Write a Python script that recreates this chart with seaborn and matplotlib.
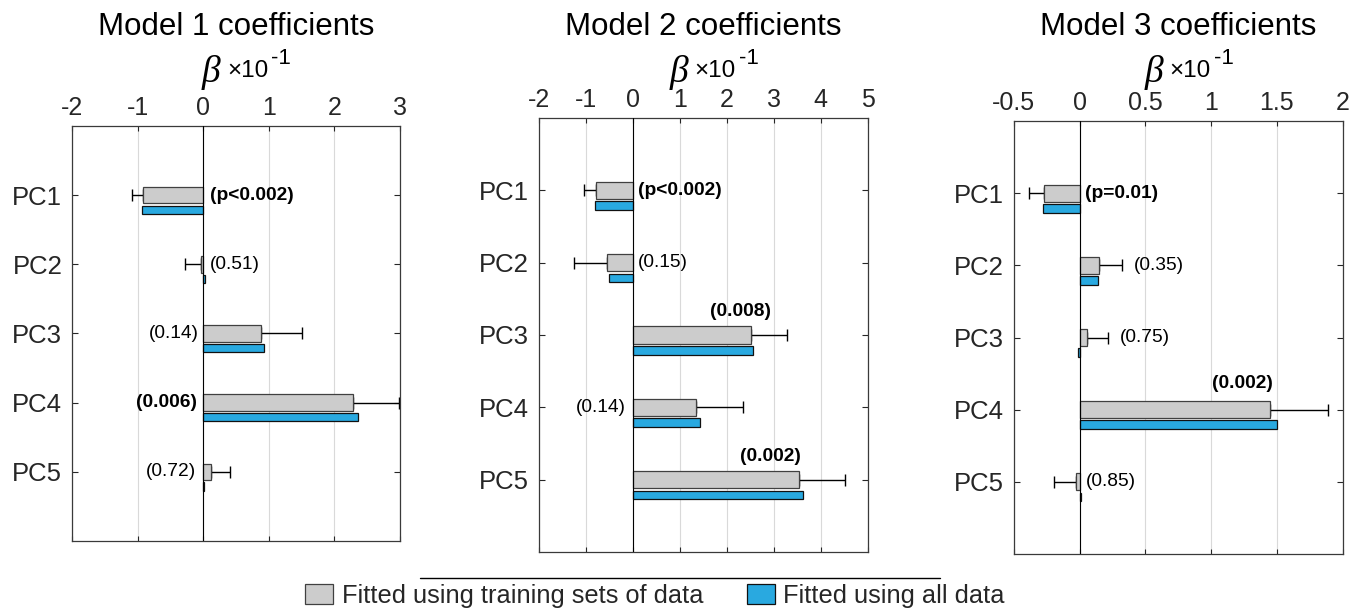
import numpy as np
import pandas as pd
import matplotlib
matplotlib.use("Agg")
import matplotlib.pyplot as plt
from matplotlib.patches import Patch
from matplotlib.lines import Line2D
import seaborn as sns

# ---------------- data ----------------
components = ["PC1", "PC2", "PC3", "PC4", "PC5"]
series_names = ["Fitted using training sets of data", "Fitted using all data"]
titles = ["Model 1 coefficients", "Model 2 coefficients", "Model 3 coefficients"]

m1_train = [-0.92, -0.03, 0.88, 2.29, 0.12]
m1_err = [0.16, 0.25, 0.63, 0.70, 0.29]
m1_all = [-0.93, 0.02, 0.92, 2.36, 0.01]
m1_p = ["(p<0.002)", "(0.51)", "(0.14)", "(0.006)", "(0.72)"]
m1_sig = [True, False, False, True, False]

m2_train = [-0.79, -0.55, 2.51, 1.34, 3.53]
m2_err = [0.24, 0.70, 0.78, 1.00, 0.98]
m2_all = [-0.81, -0.50, 2.56, 1.43, 3.62]
m2_p = ["(p<0.002)", "(0.15)", "(0.008)", "(0.14)", "(0.002)"]
m2_sig = [True, False, True, False, True]

m3_train = [-0.27, 0.15, 0.06, 1.45, -0.03]
m3_err = [0.11, 0.17, 0.16, 0.44, 0.16]
m3_all = [-0.28, 0.14, -0.01, 1.50, 0.01]
m3_p = ["(p=0.01)", "(0.35)", "(0.75)", "(0.002)", "(0.85)"]
m3_sig = [True, False, False, True, False]

x_limits = [(-2, 3), (-2, 5), (-0.5, 2)]
x_ticks = [[-2, -1, 0, 1, 2, 3],
           [-2, -1, 0, 1, 2, 3, 4, 5],
           [-0.5, 0, 0.5, 1, 1.5, 2]]
x_ticklabels = [["-2", "-1", "0", "1", "2", "3"],
                ["-2", "-1", "0", "1", "2", "3", "4", "5"],
                ["-0.5", "0", "0.5", "1", "1.5", "2"]]

# ---------------- style / layout ----------------
W, H = 1359, 612
GRAY = "#cccccc"
BLUE = "#29a9e0"
DARK = "#262626"

# annotation placement: (anchor, dx points, dy data, ha)
label_layout = [
    [("zero", 5, 0, "left"), ("zero", 5, 0, "left"), ("zero", -3, 0, "right"),
     ("zero", -4.5, 0, "right"), ("zero", -5, 0, "right")],
    [("zero", 4, 0, "left"), ("zero", 4, 0, "left"), ("bar", -7, -0.33, "center"),
     ("zero", -5, 0, "right"), ("bar", -20, -0.32, "center")],
    [("zero", 4, 0, "left"), ("err", 8.5, 0, "left"), ("err", 8, 0, "left"),
     ("bar", -20, -0.36, "center"), ("zero", 4.5, 0, "left")],
]
# axes boxes in pixels: left, top, right, bottom
boxes = [(72, 126, 400, 541), (538.7, 118, 867.7, 552), (1013.7, 121, 1342.7, 554)]

sns.set_style("white")
plt.rcParams["font.family"] = ["Liberation Sans", "DejaVu Sans"]
plt.rcParams["axes.unicode_minus"] = False

fig = plt.figure(figsize=(W / 100, H / 100), dpi=100)

models = [
    (m1_train, m1_err, m1_all, m1_p, m1_sig),
    (m2_train, m2_err, m2_all, m2_p, m2_sig),
    (m3_train, m3_err, m3_all, m3_p, m3_sig),
]

positions = np.arange(1, len(components) + 1, dtype=float)

for i, (train, err, alld, pvals, sig) in enumerate(models):
    l, t, r, b = boxes[i]
    ax = fig.add_axes([l / W, 1 - b / H, (r - l) / W, (b - t) / H])

    df = pd.DataFrame({"component": components, "pos": positions,
                       "train": train, "err": err, "all": alld})
    df["pos_all"] = df["pos"] + 0.21

    sns.barplot(data=df, x="train", y="pos", orient="y", native_scale=True,
                width=0.24, color=GRAY, saturation=1, edgecolor="#404040",
                linewidth=0.9, errorbar=None, ax=ax)
    sns.barplot(data=df, x="all", y="pos_all", orient="y", native_scale=True,
                width=0.12, color=BLUE, saturation=1, edgecolor="#111111",
                linewidth=0.9, errorbar=None, ax=ax)

    tr = np.asarray(train)
    er = np.asarray(err)
    lower = np.where(tr < 0, er, 0.0)
    upper = np.where(tr >= 0, er, 0.0)
    ax.errorbar(tr, positions, xerr=[lower, upper], fmt="none",
                ecolor="black", elinewidth=1.0, capsize=4.5, capthick=1.0,
                zorder=0.9)

    ax.axvline(0, color="black", lw=0.8, zorder=3)

    ax.set_xlim(*x_limits[i])
    ax.set_ylim(6, 0)
    ax.set_xticks(x_ticks[i])
    ax.set_xticklabels(x_ticklabels[i])
    ax.set_yticks(positions)
    ax.set_yticklabels(components)
    ax.set_xlabel("")
    ax.set_ylabel("")
    ax.xaxis.tick_top()
    ax.tick_params(axis="x", top=True, bottom=True, labeltop=True,
                   labelbottom=False, direction="in", length=3.5, width=0.8,
                   colors=DARK, labelsize=18, pad=4)
    ax.tick_params(axis="y", left=True, right=True, direction="in",
                   length=4, width=0.8, colors=DARK, labelsize=18.5, pad=7)
    ax.grid(axis="x", color="#d9d9d9", lw=0.8)
    ax.grid(axis="y", visible=False)
    ax.set_axisbelow(True)
    for s in ax.spines.values():
        s.set_visible(True)
        s.set_color("#3a3a3a")
        s.set_linewidth(0.9)

    # p-value annotations
    for j, (txt, bold) in enumerate(zip(pvals, sig)):
        anchor, dx, dy, ha = label_layout[i][j]
        if anchor == "zero":
            ax_x = 0.0
        elif anchor == "err":
            ax_x = tr[j] + (er[j] if tr[j] >= 0 else -er[j])
        else:
            ax_x = tr[j]
        ax.annotate(txt, xy=(ax_x, positions[j] + dy), xytext=(dx, 0),
                    textcoords="offset points", ha=ha, va="center",
                    fontsize=13.8, fontweight="bold" if bold else "normal",
                    color="black", zorder=4)

    # titles and beta labels
    cx = (l + r) / 2
    fig.text(cx / W, 1 - 27 / H, titles[i], ha="center", va="center",
             fontsize=22.5, color="black")
    bx = l + 0.425 * (r - l)
    fig.text(bx / W, 1 - 72 / H, "\u03b2", ha="center", va="center",
             fontsize=27, style="italic",
             family=["Liberation Serif", "DejaVu Serif"], color="black")
    fig.text((bx + 16) / W, 1 - 71 / H, "\u00d710", ha="left", va="center",
             fontsize=17.5, color="black")
    fig.text((bx + 60) / W, 1 - 58 / H, "-1", ha="left", va="center",
             fontsize=16, color="black")

# legend separator line
fig.add_artist(Line2D([420 / W, 940 / W], [1 - 578 / H, 1 - 578 / H],
                      color="black", lw=1.0, transform=fig.transFigure))

handles = [Patch(facecolor=GRAY, edgecolor="#404040", lw=0.9),
           Patch(facecolor=BLUE, edgecolor="#111111", lw=0.9)]
fig.legend(handles=handles, labels=series_names, loc="center",
           bbox_to_anchor=(655 / W, 1 - 596 / H), ncol=2, frameon=False,
           fontsize=18.3, handlelength=1.1, handleheight=0.8,
           handletextpad=0.35, columnspacing=1.7, borderpad=0)

fig.savefig("out.png", dpi=100)
